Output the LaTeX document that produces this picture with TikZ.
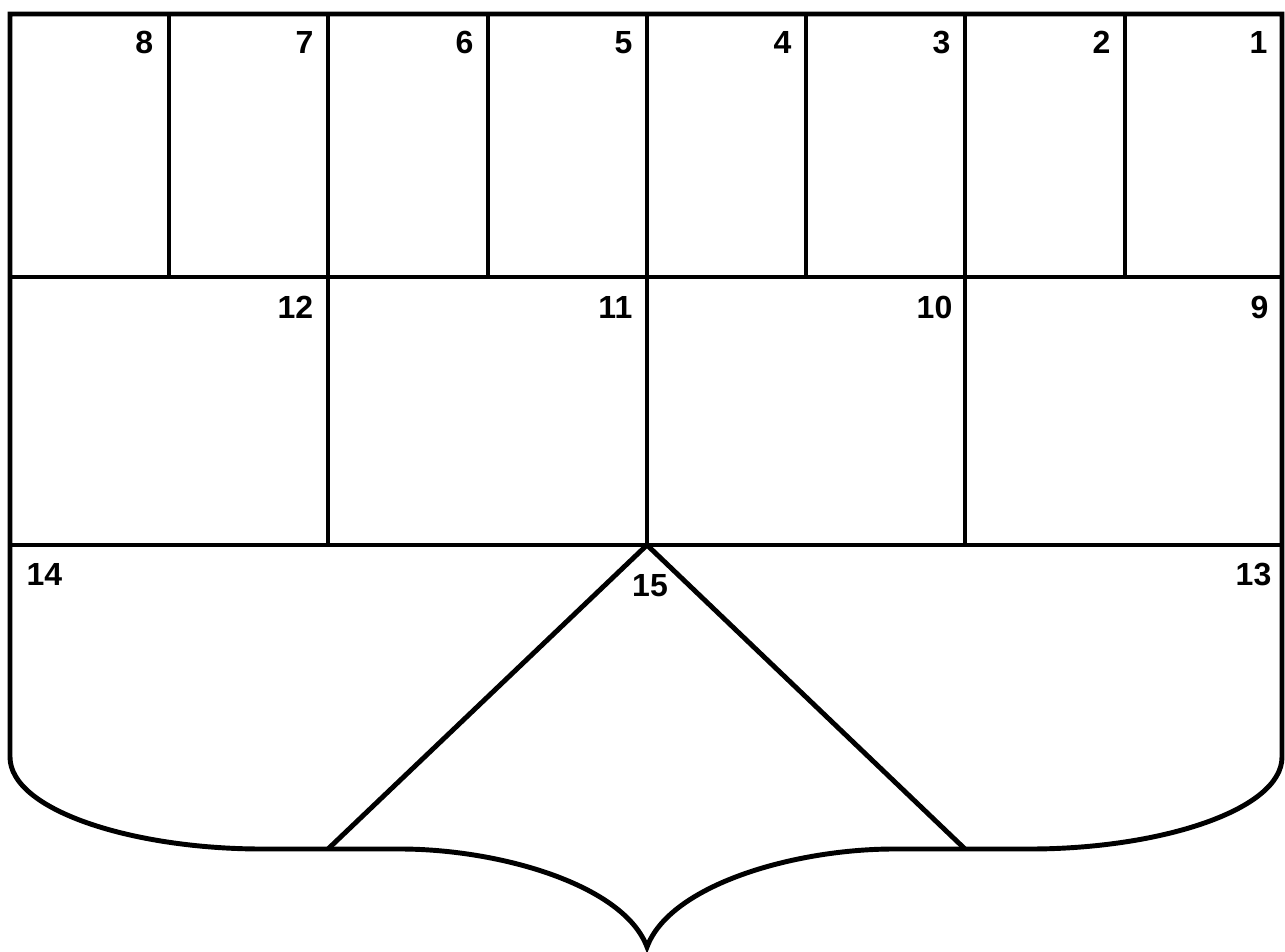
\documentclass[tikz,border=0pt]{standalone}
\usepackage{fontspec}
\setmainfont{Liberation Sans}
\usetikzlibrary{positioning}

\begin{document}
\begin{tikzpicture}[
  x=0.01cm,
  y=-0.01cm,
  font=\bfseries\fontsize{9.1}{11}\selectfont,
  outline/.style={line width=1.4pt, black, line join=miter},
  divider/.style={line width=1.4pt, black},
  fieldno/.style={anchor=north east},
  every node/.style={inner sep=0pt, text height=6.5pt, text depth=0pt}
]
  \useasboundingbox (0,0) rectangle (1285,952);

  % Corner points of the shield.
  \coordinate (tl) at (10,14);
  \coordinate (tr) at (1282,14);
  \coordinate (apex) at (647,545);
  \coordinate (baseL) at (328,849);
  \coordinate (baseR) at (965,849);
  \coordinate (tip) at (647,947);

  % Outer contour with the pointed base.
  \draw[outline] (tl) -- (tr) -- (1282,757)
    .. controls (1282,810) and (1160,849) .. (1030,849)
    -- (894,849)
    .. controls (794,849) and (670,885) .. (tip)
    .. controls (624,885) and (500,849) .. (400,849)
    -- (262,849)
    .. controls (132,849) and (10,810) .. (10,757) -- cycle;

  % Horizontal rows.
  \draw[divider] (10,277) -- (1282,277);
  \draw[divider] (10,545) -- (1282,545);

  % Eight narrow fields on top.
  \foreach \xx in {169,328,488,647,806,965,1125}
    \draw[divider] (\xx,14) -- (\xx,277);
  \foreach \xx/\nr in {154/8,314/7,474/6,633/5,792/4,951/3,1111/2,1268/1}
    \node[fieldno] (f\nr) at (\xx,30) {\nr};

  % Four wide fields in the middle row.
  \foreach \xx in {328,647,965}
    \draw[divider] (\xx,277) -- (\xx,545);
  \foreach \xx/\nr in {314/12,633/11,953/10,1269/9}
    \node[fieldno] (f\nr) at (\xx,295) {\nr};

  % Triangle at the base.
  \draw[divider] (apex) -- (baseL);
  \draw[divider] (apex) -- (baseR);

  % Lower field numbers.
  \node[anchor=north west] (f14) at (26,562) {14};
  \node[fieldno] (f13) at (1272,562) {13};
  \node[anchor=north] (f15) at (650,573) {15};

\end{tikzpicture}
\end{document}
